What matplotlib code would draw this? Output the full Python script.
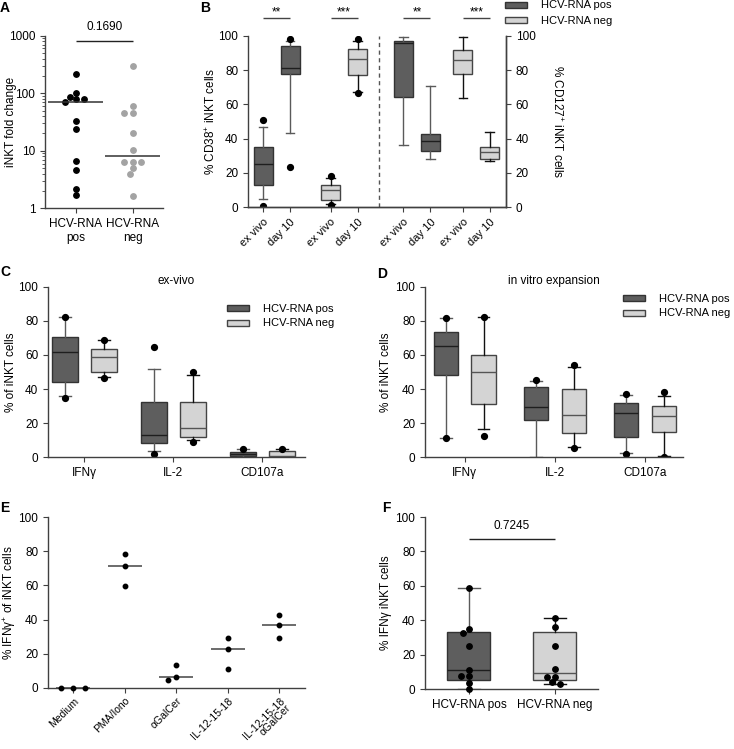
import numpy as np
import matplotlib
matplotlib.use("Agg")
import matplotlib.pyplot as plt
from matplotlib.patches import Patch
from matplotlib.ticker import LogLocator, NullFormatter

plt.rcParams['font.family'] = ['Liberation Sans', 'DejaVu Sans']
plt.rcParams['font.size'] = 8
plt.rcParams['axes.linewidth'] = 1.0
plt.rcParams['axes.edgecolor'] = '#404040'
plt.rcParams['xtick.color'] = '#404040'
plt.rcParams['ytick.color'] = '#404040'
plt.rcParams['xtick.labelcolor'] = 'black'
plt.rcParams['ytick.labelcolor'] = 'black'
plt.rcParams['xtick.major.size'] = 3.5
plt.rcParams['ytick.major.size'] = 3.5
plt.rcParams['mathtext.fontset'] = 'custom'
plt.rcParams['mathtext.rm'] = 'Liberation Sans'
plt.rcParams['mathtext.it'] = 'Liberation Sans:italic'
plt.rcParams['mathtext.bf'] = 'Liberation Sans:bold'

# ---------------- data ----------------
# Panel A: iNKT fold change
a_groups = ["HCV-RNA\npos", "HCV-RNA\nneg"]
a_pos = [216, 102, 87, 80, 78.5, 71, 33, 24, 6.65, 4.6, 2.2, 1.69]
a_neg = [297, 60, 46, 46, 20, 10.3, 6.5, 6.5, 6.5, 5.0, 4.0, 1.66]
a_medians = [71, 8.1]
a_pvalue = "0.1690"

# Panel B: CD38 (first 4) and CD127 (last 4)
b_ticklabels = ["ex vivo", "day 10"] * 4
b_group = ["pos", "pos", "neg", "neg", "pos", "pos", "neg", "neg"]
b_q1 = [13, 77.5, 4, 77, 64.5, 33, 77.5, 28]
b_med = [25, 81.5, 10, 86.5, 96, 38.5, 86, 32]
b_q3 = [35, 94, 13, 92.5, 97, 42.5, 92, 35]
b_lo = [4.5, 43.5, 2, 67, 36.5, 28, 63.5, 27]
b_hi = [47, 97, 17, 97, 99.5, 71, 99.5, 44]
b_fliers = [[51, 0.5], [98, 23.5], [18, 1], [98, 66.5], [], [], [], []]
b_signif = ["**", "***", "**", "***"]

# Panel C / D
cd_categories = ["IFNγ", "IL-2", "CD107a"]
c_pos_q1 = [44, 8, 0.5]
c_pos_med = [62, 13, 1.5]
c_pos_q3 = [70.5, 32.5, 3]
c_pos_lo = [36, 3.5, 0]
c_pos_hi = [82.5, 51.5, 4.5]
c_pos_fliers = [[82.5, 34.5], [64.5, 1.5], [5]]
c_neg_q1 = [50, 12, 0]
c_neg_med = [59, 17, 0.5]
c_neg_q3 = [63.5, 32.5, 3.5]
c_neg_lo = [47, 10, 0]
c_neg_hi = [69, 48.5, 5]
c_neg_fliers = [[69, 46.5], [50, 9], [5]]

d_pos_q1 = [48, 22, 12]
d_pos_med = [65.5, 29.5, 26]
d_pos_q3 = [73.5, 41, 32]
d_pos_lo = [11, 0, 2.5]
d_pos_hi = [82, 45, 36.5]
d_pos_fliers = [[82, 11], [45.5], [37, 1.5]]
d_neg_q1 = [31, 14, 15]
d_neg_med = [50, 25, 24]
d_neg_q3 = [60, 40, 30]
d_neg_lo = [16.5, 6, 0.5]
d_neg_hi = [82.5, 53, 36]
d_neg_fliers = [[82.5, 12.5], [54, 5.5], [38, 0]]

# Panel E
e_categories = ["Medium", "PMA/Iono", "αGalCer", "IL-12-15-18", "IL-12-15-18\nαGalCer"]
e_values = [[0, 0, 0], [78.5, 71.5, 59.5], [13.5, 4.5, 6.5], [29, 23, 11], [42.5, 37, 29]]
e_medians = [0, 71.5, 6.5, 23, 37]

# Panel F
f_groups = ["HCV-RNA pos", "HCV-RNA neg"]
f_pos = [58.5, 35, 32.5, 25, 11, 7.5, 7.5, 3.5, 0]
f_neg = [41.5, 36, 25, 11.5, 7, 7, 4, 3]
f_q1 = [5.5, 5]
f_med = [11, 9.5]
f_q3 = [33, 33]
f_lo = [0, 3]
f_hi = [58.5, 41.5]
f_pvalue = "0.7245"

legend_labels = ["HCV-RNA pos", "HCV-RNA neg"]

# ---------------- style ----------------
W, H = 734, 749
DARK = '#5e5e5e'
LIGHT = '#d4d4d4'
STY = {
    'pos': dict(face=DARK, edge='#333333', whisk='#5a5a5a', med='#1e1e1e'),
    'neg': dict(face=LIGHT, edge='#444444', whisk='#111111', med='#555555'),
}

fig = plt.figure(figsize=(W / 100, H / 100), dpi=100)


def rect(x0, x1, y0, y1):
    return [x0 / W, 1 - y1 / H, (x1 - x0) / W, (y1 - y0) / H]


def clean(ax, right=False):
    ax.spines['top'].set_visible(False)
    if not right:
        ax.spines['right'].set_visible(False)


def ylab(ax, text, x_px_center, ax_x0, ax_w, right=False):
    """place a y label so that its centre lies at x_px_center (figure pixels)"""
    if right:
        ax.set_ylabel(text, fontsize=8.5, rotation=270, va='center')
    else:
        ax.set_ylabel(text, fontsize=8.5, va='center')
    ax.yaxis.set_label_coords((x_px_center - ax_x0) / ax_w, 0.5)


def boxes(ax, q1, med, q3, lo, hi, fliers, groups, positions, width, capw, ms=4.2):
    stats = [dict(q1=a, med=m, q3=b, whislo=l, whishi=h, fliers=np.array(f, dtype=float))
             for a, m, b, l, h, f in zip(q1, med, q3, lo, hi, fliers)]
    bp = ax.bxp(stats, positions=positions, widths=width, capwidths=capw,
                patch_artist=True, showfliers=True, manage_ticks=False,
                flierprops=dict(marker='o', markerfacecolor='black', markeredgecolor='black',
                                markersize=ms, linestyle='none'))
    for i, g in enumerate(groups):
        s = STY[g]
        bp['boxes'][i].set(facecolor=s['face'], edgecolor=s['edge'], linewidth=1.0)
        for k in (2 * i, 2 * i + 1):
            bp['whiskers'][k].set(color=s['whisk'], linewidth=1.0)
            bp['caps'][k].set(color=s['whisk'], linewidth=1.0)
        bp['medians'][i].set(color=s['med'], linewidth=1.0)
    return bp


def legend(ax, x_px, y_px):
    handles = [Patch(facecolor=STY[g]['face'], edgecolor=STY[g]['edge'], linewidth=1.0)
               for g in ('pos', 'neg')]
    ax.legend(handles, legend_labels, loc='upper left',
              bbox_to_anchor=(x_px / W, 1 - y_px / H), bbox_transform=fig.transFigure,
              frameon=False, handlelength=2.0, handleheight=0.45, handletextpad=1.2,
              labelspacing=0.45, borderpad=0, borderaxespad=0, fontsize=8)


def swarm(values, ypx, xpx_per_unit, diam):
    ys = np.array([ypx(v) for v in values], dtype=float)
    order = np.argsort(-ys, kind='stable')
    cands = [0.0]
    for k in range(1, 15):
        cands += [-k * diam / 2, k * diam / 2]
    px, py = [], []
    offs = np.zeros(len(values))
    for i in order:
        for c in cands:
            if all((c - a) ** 2 + (ys[i] - b) ** 2 >= (diam * 1.05) ** 2 for a, b in zip(px, py)):
                break
        px.append(c)
        py.append(ys[i])
        offs[i] = c / xpx_per_unit
    return offs


def panel_letter(x, y, s):
    fig.text(x / W, 1 - y / H, s, fontsize=10, fontweight='bold', va='top', ha='left')


# ---------------- Panel A ----------------
axA = fig.add_axes(rect(45, 163, 35.7, 208.3))
clean(axA)
axA.set_yscale('log')
axA.set_ylim(1, 1000)
axA.set_xlim(-0.54, 1.53)
for gi, (vals, col) in enumerate([(a_pos, 'black'), (a_neg, '#a3a3a3')]):
    offs = swarm(vals, lambda v: np.log10(v) * 57.55, 57.0, 5.6)
    axA.plot(gi + offs, vals, 'o', color=col, markersize=3.9, linestyle='none', clip_on=False)
    axA.hlines(a_medians[gi], gi - 0.48, gi + 0.48, color='#333333', linewidth=1.1)
axA.set_xticks([0, 1])
axA.set_xticklabels(a_groups, fontsize=8.5)
axA.set_yticks([1, 10, 100, 1000])
axA.set_yticklabels(["1", "10", "100", "1000"], fontsize=8.5)
axA.yaxis.set_minor_locator(LogLocator(base=10, subs=np.arange(2, 10)))
axA.yaxis.set_minor_formatter(NullFormatter())
axA.tick_params(axis='y', which='minor', length=2)
ylab(axA, "iNKT fold change", 11, 45, 118)
axA.hlines(820, 0, 1, color='#222222', linewidth=1.0, clip_on=False)
axA.text(0.5, 1416, a_pvalue, ha='center', va='center', fontsize=8.5)

# ---------------- Panel B ----------------
axB = fig.add_axes(rect(248, 506, 36, 207))
clean(axB, right=True)
b_pos = [1, 2, 3.5, 4.5, 6.2, 7.2, 8.4, 9.4]
boxes(axB, b_q1, b_med, b_q3, b_lo, b_hi, b_fliers, b_group, b_pos, 0.7, 0.32)
axB.set_xlim(0.44, 10.0)
axB.set_ylim(0, 100)
axB.set_yticks(np.arange(0, 101, 20))
axB.tick_params(axis='y', labelsize=8.5)
axB.set_xticks(b_pos)
axB.set_xticklabels(b_ticklabels, rotation=45, ha='right', rotation_mode='anchor', fontsize=8)
axB.axvline(5.3, color='#555555', linestyle=(0, (3, 2.5)), linewidth=1.0)
ylab(axB, "% CD38$^{+}$ iNKT cells", 211, 248, 258)
for k, s in enumerate(b_signif):
    x0, x1 = b_pos[2 * k], b_pos[2 * k + 1]
    axB.hlines(110.5, x0, x1, color='#444444', linewidth=1.0, clip_on=False)
    axB.text((x0 + x1) / 2, 113.5, s, ha='center', va='center', fontsize=8.5)
axB2 = axB.twinx()
axB2.set_ylim(0, 100)
axB2.set_yticks(np.arange(0, 101, 20))
axB2.tick_params(axis='y', labelsize=8.5)
axB2.spines['top'].set_visible(False)
axB2.spines['left'].set_visible(False)
ylab(axB2, "% CD127$^{+}$ iNKT cells", 557, 248, 258, right=True)
legend(axB2, 505, 0.5)

# ---------------- Panels C and D ----------------
def cd_panel(xr, q_pos, q_neg, title, off, width, capw, leg_xy, ylab_x):
    ax = fig.add_axes(rect(xr[0], xr[1], 287, 457))
    clean(ax)
    x = np.arange(len(cd_categories))
    boxes(ax, *q_pos, ['pos'] * 3, x - off, width, capw)
    boxes(ax, *q_neg, ['neg'] * 3, x + off, width, capw)
    ax.set_ylim(0, 100)
    ax.set_yticks(np.arange(0, 101, 20))
    ax.tick_params(axis='y', labelsize=8.5)
    ax.set_xticks(x)
    ax.set_xticklabels(cd_categories, fontsize=8.5)
    ylab(ax, "% of iNKT cells", ylab_x, xr[0], xr[1] - xr[0])
    ax.text(0.5, 1.035, title, transform=ax.transAxes, ha='center', va='center', fontsize=8.5)
    legend(ax, *leg_xy)
    return ax


axC = cd_panel((48, 305),
               (c_pos_q1, c_pos_med, c_pos_q3, c_pos_lo, c_pos_hi, c_pos_fliers),
               (c_neg_q1, c_neg_med, c_neg_q3, c_neg_lo, c_neg_hi, c_neg_fliers),
               "ex-vivo", 0.22, 0.29, 0.13, (227, 303.5), 11)
axC.set_xlim(-0.41, 2.48)
axD = cd_panel((425, 683),
               (d_pos_q1, d_pos_med, d_pos_q3, d_pos_lo, d_pos_hi, d_pos_fliers),
               (d_neg_q1, d_neg_med, d_neg_q3, d_neg_lo, d_neg_hi, d_neg_fliers),
               "in vitro expansion", 0.21, 0.27, 0.13, (623, 293.5), 386)
axD.set_xlim(-0.44, 2.42)

# ---------------- Panel E ----------------
axE = fig.add_axes(rect(48, 305, 517, 688))
clean(axE)
axE.set_xlim(-0.49, 4.5)
axE.set_ylim(0, 100)
for i, vals in enumerate(e_values):
    offs = swarm(vals, lambda v: v * 1.71, 51.5, 8.0)
    axE.plot(i + offs, vals, 'o', color='black', markersize=3.2, linestyle='none', clip_on=False,
             zorder=3)
    axE.hlines(e_medians[i], i - 0.33, i + 0.33, color='#444444', linewidth=1.1, zorder=2)
axE.set_xticks(np.arange(len(e_categories)))
axE.set_xticklabels(e_categories, rotation=45, ha='right', rotation_mode='anchor', fontsize=7.5,
                    linespacing=0.95)
axE.tick_params(axis='x', pad=2)
axE.set_yticks(np.arange(0, 101, 20))
axE.tick_params(axis='y', labelsize=8.5)
ylab(axE, "% IFNγ$^{+}$ of iNKT cells", 10, 48, 257)

# ---------------- Panel F ----------------
axF = fig.add_axes(rect(425, 598, 517, 689))
clean(axF)
axF.set_xlim(-0.51, 1.5)
axF.set_ylim(0, 100)
boxes(axF, f_q1, f_med, f_q3, f_lo, f_hi, [[], []], ['pos', 'neg'], [0, 1], 0.5, 0.26)
for gi, vals in enumerate([f_pos, f_neg]):
    offs = swarm(vals, lambda v: v * 1.72, 86.0, 5.4)
    axF.plot(gi + offs, vals, 'o', color='black', markersize=3.9, linestyle='none', clip_on=False,
             zorder=4)
axF.set_xticks([0, 1])
axF.set_xticklabels(f_groups, fontsize=8.5)
axF.set_yticks(np.arange(0, 101, 20))
axF.tick_params(axis='y', labelsize=8.5)
ylab(axF, "% IFNγ iNKT cells", 386, 425, 173)
axF.hlines(87, 0, 1, color='#222222', linewidth=1.0)
axF.text(0.5, 95, f_pvalue, ha='center', va='center', fontsize=8.5)

# ---------------- panel letters ----------------
panel_letter(0, 1, "A")
panel_letter(200, 1, "B")
panel_letter(0, 265, "C")
panel_letter(377, 267, "D")
panel_letter(0, 501, "E")
panel_letter(382, 501, "F")

fig.savefig("out.png", dpi=100)
